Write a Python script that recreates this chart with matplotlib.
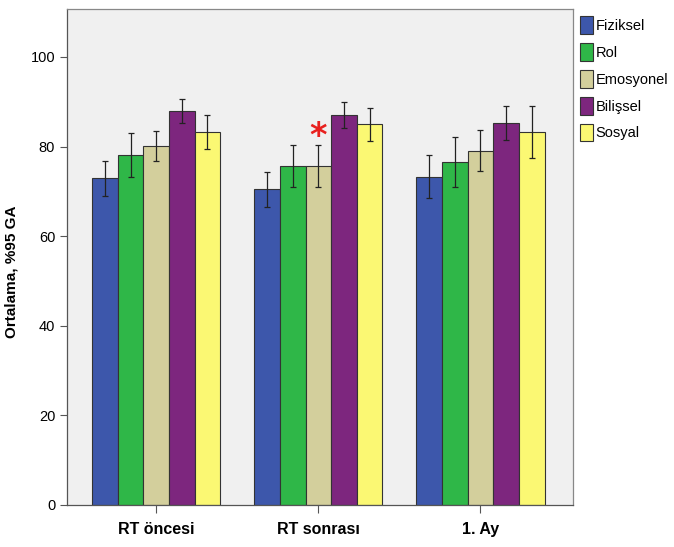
import numpy as np
import matplotlib
matplotlib.use("Agg")
import matplotlib.pyplot as plt

groups = ["RT öncesi", "RT sonrası", "1. Ay"]
series = ["Fiziksel", "Rol", "Emosyonel", "Bilişsel", "Sosyal"]
colors = ["#3D57AB", "#2FB748", "#D3CF9C", "#7D267E", "#FBF873"]

# mean values, one row per series (columns = groups)
means = np.array([
    [72.9, 70.5, 73.3],
    [78.1, 75.7, 76.6],
    [80.1, 75.7, 79.1],
    [88.0, 87.1, 85.3],
    [83.3, 85.0, 83.3],
])
# 95% CI lower / upper bounds
ci_low = np.array([
    [69.0, 66.6, 68.6],
    [73.1, 71.0, 71.0],
    [76.8, 71.0, 74.6],
    [85.2, 84.1, 81.4],
    [79.4, 81.3, 77.5],
])
ci_high = np.array([
    [76.8, 74.3, 78.1],
    [83.0, 80.4, 82.2],
    [83.5, 80.4, 83.7],
    [90.7, 90.0, 89.1],
    [87.1, 88.6, 89.1],
])

plt.rcParams['font.family'] = ['Liberation Sans', 'DejaVu Sans']

fig = plt.figure(figsize=(6.74, 5.47), dpi=100)
ax = fig.add_axes([0.0994, 0.0768, 0.7506, 0.9067])
ax.set_facecolor("#F0F0F0")

x = np.arange(len(groups))
w = 0.158
for i, name in enumerate(series):
    pos = x + (i - 2) * w
    ax.bar(pos, means[i], width=w, color=colors[i], edgecolor="#333333",
           linewidth=0.8, label=name, zorder=2)
    yerr = [means[i] - ci_low[i], ci_high[i] - means[i]]
    ax.errorbar(pos, means[i], yerr=yerr, fmt="none", ecolor="#222222",
                elinewidth=0.9, capsize=2.3, capthick=0.9, zorder=3)

# significance mark above Emosyonel, RT sonrası
ax.text(x[1], ci_high[2][1] + 1.8, "*", color="#E8201E", fontsize=24,
        fontweight="bold", ha="center", va="center", family="DejaVu Sans")

ax.set_xlim(-0.55, 2.57)
ax.set_ylim(0, 110.7)
ax.set_yticks([0, 20, 40, 60, 80, 100])
ax.set_xticks(x)
ax.set_xticklabels(groups, fontsize=11.5, fontweight="bold")
ax.tick_params(axis="y", labelsize=10.5, length=5, width=0.8, color="#555555")
ax.tick_params(axis="x", length=6, width=0.8, color="#555555", pad=6)
for s in ax.spines.values():
    s.set_color("#888888")
    s.set_linewidth(0.9)
ax.spines["left"].set_color("#555555")
ax.spines["bottom"].set_color("#555555")

ax.set_ylabel("Ortalama, %95 GA", fontsize=11, fontweight="bold")
ax.yaxis.set_label_coords(-0.095, 0.47)

leg = ax.legend(loc="upper left", bbox_to_anchor=(1.0, 1.0), frameon=False,
                fontsize=10.5, handlelength=0.85, handleheight=1.5,
                handletextpad=0.2, labelspacing=0.62, borderaxespad=0.1)
for h in leg.get_patches():
    h.set_edgecolor("#333333")

fig.savefig("out.png", dpi=100)
